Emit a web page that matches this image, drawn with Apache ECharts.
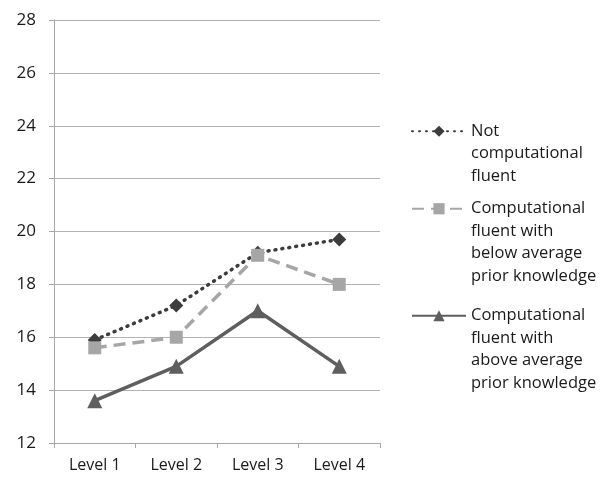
<!DOCTYPE html>
<html><head><meta charset="utf-8">
<script src="https://cdn.jsdelivr.net/npm/echarts@6/dist/echarts.min.js"></script>
<style>html,body{margin:0;padding:0;background:#fff}#c{width:602px;height:477px}</style>
</head><body><div id="c"></div>
<script>
var categories = ['Level 1', 'Level 2', 'Level 3', 'Level 4'];
var notFluent = [15.9, 17.2, 19.2, 19.7];
var fluentBelow = [15.6, 16.0, 19.1, 18.0];
var fluentAbove = [13.6, 14.9, 17.0, 14.9];
var seriesNames = ['Not computational fluent', 'Computational fluent with below average prior knowledge', 'Computational fluent with above average prior knowledge'];
var legendLines = [
  ['Not', 'computational', 'fluent'],
  ['Computational', 'fluent with', 'below average', 'prior knowledge'],
  ['Computational', 'fluent with', 'above average', 'prior knowledge']
];
var yMin = 12, yMax = 28, yStep = 2;

var FONT = 'Open Sans';
var LH = 22.5;
var legendTops = [70, 125, 232];
function mkLegend(i) {
  var lines = legendLines[i];
  var pad = [];
  for (var k = 0; k < lines.length - 1; k++) pad.push('');
  return {
    data: [seriesNames[i]],
    orient: 'vertical',
    left: 406,
    top: legendTops[i],
    itemWidth: 54,
    itemHeight: 14,
    selectedMode: false,
    formatter: function () { return pad.concat(lines).join('\n'); },
    textStyle: { fontFamily: FONT, fontSize: 16.5, color: '#1a1a1a', lineHeight: LH }
  };
}

var chart = echarts.init(document.getElementById('c'), null, { renderer: 'canvas' });
chart.setOption({
  animation: false,
  backgroundColor: '#fff',
  grid: { left: 54, right: 222, top: 20, bottom: 34, containLabel: false },
  legend: [mkLegend(0), mkLegend(1), mkLegend(2)],
  xAxis: {
    type: 'category',
    data: categories,
    boundaryGap: true,
    axisLine: { lineStyle: { color: '#a6a6a6', width: 1 } },
    axisTick: { show: true, length: 5, inside: false, lineStyle: { color: '#a6a6a6' } },
    axisLabel: { fontFamily: FONT, fontSize: 16, color: '#1a1a1a', margin: 14 }
  },
  yAxis: {
    type: 'value',
    min: yMin, max: yMax, interval: yStep,
    axisLine: { show: true, lineStyle: { color: '#a6a6a6', width: 1 } },
    axisTick: { show: true, length: 5, lineStyle: { color: '#a6a6a6' } },
    splitLine: { lineStyle: { color: '#b3b3b3', width: 1 } },
    axisLabel: { fontFamily: FONT, fontSize: 17, color: '#1a1a1a', margin: 18 }
  },
  series: [
    {
      name: seriesNames[0], type: 'line', data: notFluent,
      symbol: 'diamond', symbolSize: 14,
      lineStyle: { color: '#3c3c3c', width: 3.5, type: [1, 6], cap: 'round' },
      itemStyle: { color: '#3c3c3c' }, z: 3
    },
    {
      name: seriesNames[1], type: 'line', data: fluentBelow,
      symbol: 'rect', symbolSize: 13,
      lineStyle: { color: '#a6a6a6', width: 3.5, type: [12, 7] },
      itemStyle: { color: '#a6a6a6' }, z: 4
    },
    {
      name: seriesNames[2], type: 'line', data: fluentAbove,
      symbol: 'triangle', symbolSize: 15,
      lineStyle: { color: '#5e5e5e', width: 3.5 },
      itemStyle: { color: '#5e5e5e' }, z: 2
    }
  ]
});
</script>
</body></html>
